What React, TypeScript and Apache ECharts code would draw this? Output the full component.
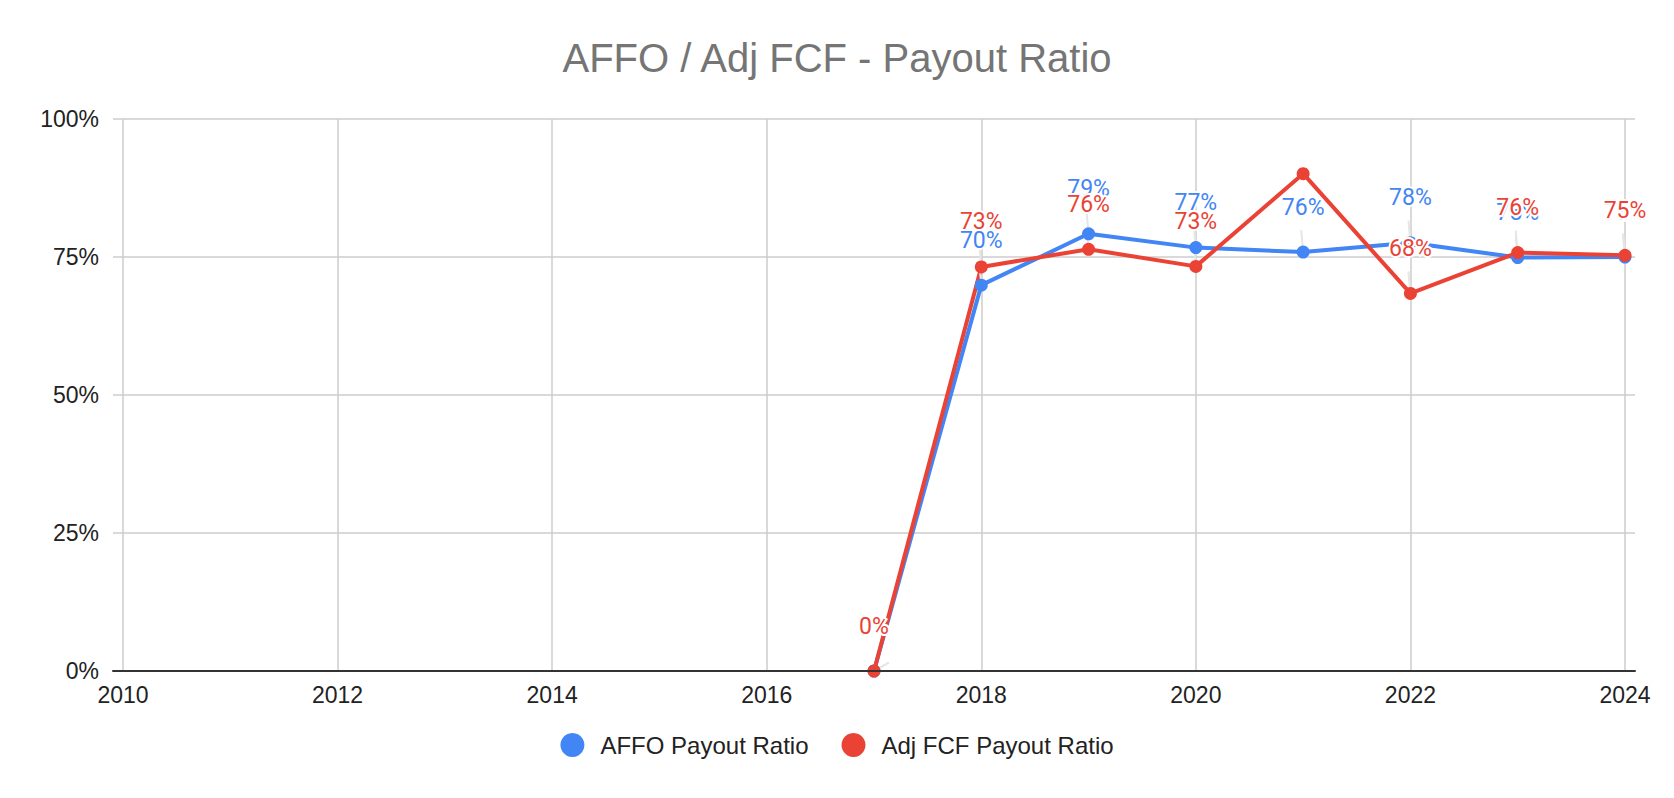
import React, { useEffect, useRef } from "react";
import * as echarts from "echarts";

const title = "AFFO / Adj FCF - Payout Ratio";
const seriesNames = ["AFFO Payout Ratio", "Adj FCF Payout Ratio"];
const years = [2017, 2018, 2019, 2020, 2021, 2022, 2023, 2024];
const affoPayout = [0, 0.699, 0.792, 0.767, 0.759, 0.776, 0.749, 0.75];
const adjFcfPayout = [0, 0.732, 0.764, 0.733, 0.901, 0.684, 0.758, 0.753];
const adjFcfHiddenLabelYears = [2021];
const xMin = 2010;
const xMax = 2024;
const xInterval = 2;
const yTicks = [0, 0.25, 0.5, 0.75, 1];

const BLUE = "#4285F4";
const RED = "#EA4335";
const SANS = "'Liberation Sans', Arial, sans-serif";
const LABEL_FONT = "Roboto, 'Noto Sans', sans-serif";

function pct(v: number) {
  return Math.round(v * 100) + "%";
}

function buildSeries(name: string, values: number[], color: string, hidden: number[]) {
  return {
    name,
    type: "line",
    xAxisIndex: 1,
    yAxisIndex: 1,
    data: years.map((y, i) =>
      hidden.includes(y)
        ? { value: [y, values[i]], label: { show: false }, labelLine: { show: false } }
        : { value: [y, values[i]] }
    ),
    symbol: "circle",
    symbolSize: 13,
    showAllSymbol: true,
    lineStyle: { color, width: 4 },
    itemStyle: { color },
    label: {
      show: true,
      position: "top",
      distance: 27,
      color,
      fontSize: 23,
      fontFamily: LABEL_FONT,
      textBorderColor: "#fff",
      textBorderWidth: 4,
      formatter: (p: any) => pct(p.value[1]),
    },
    labelLine: { show: true, lineStyle: { color: "#e6e6e6", width: 2 } },
    emphasis: { disabled: true },
  };
}

export default function App() {
  const ref = useRef<HTMLDivElement>(null);
  useEffect(() => {
    document.body.style.margin = "0";
    const chart = echarts.init(ref.current!, null, { renderer: "svg" });
    chart.setOption({
      animation: false,
      backgroundColor: "#fff",
      title: {
        text: title,
        left: "center",
        top: 33,
        textStyle: { color: "#757575", fontSize: 40, fontWeight: "normal", fontFamily: SANS },
      },
      legend: {
        data: seriesNames,
        top: 728,
        left: "center",
        icon: "circle",
        itemWidth: 24,
        itemHeight: 24,
        itemGap: 33,
        textStyle: { fontSize: 24, color: "#222", fontFamily: SANS, padding: [0, 0, 0, 11] },
      },
      grid: [
        { left: 113, right: 39, top: 119, bottom: 127 },
        { left: 123, right: 49, top: 119, bottom: 127 },
      ],
      xAxis: [
        {
          gridIndex: 0,
          type: "value",
          min: 0,
          max: 1,
          z: 5,
          axisLine: { show: true, lineStyle: { color: "#333", width: 2 } },
          axisTick: { show: false },
          axisLabel: { show: false },
          splitLine: { show: false },
        },
        {
          gridIndex: 1,
          type: "value",
          min: xMin,
          max: xMax,
          interval: xInterval,
          axisLine: { show: false },
          axisTick: { show: false },
          axisLabel: { fontSize: 23, color: "#222", margin: 12, fontFamily: SANS, formatter: (v: number) => String(v) },
          splitLine: { show: true, lineStyle: { color: "#cccccc", width: 1.5 } },
        },
      ],
      yAxis: [
        {
          gridIndex: 0,
          type: "value",
          min: yTicks[0],
          max: yTicks[yTicks.length - 1],
          interval: yTicks[1] - yTicks[0],
          axisLine: { show: false },
          axisTick: { show: false },
          axisLabel: { fontSize: 23, color: "#222", margin: 14, fontFamily: SANS, formatter: (v: number) => pct(v) },
          splitLine: { show: true, lineStyle: { color: "#cccccc", width: 1.5 } },
        },
        {
          gridIndex: 1,
          type: "value",
          min: yTicks[0],
          max: yTicks[yTicks.length - 1],
          show: false,
        },
      ],
      series: [
        buildSeries(seriesNames[0], affoPayout, BLUE, []),
        buildSeries(seriesNames[1], adjFcfPayout, RED, adjFcfHiddenLabelYears),
      ],
    });
    return () => chart.dispose();
  }, []);
  return <div ref={ref} style={{ width: 1674, height: 798 }} />;
}
